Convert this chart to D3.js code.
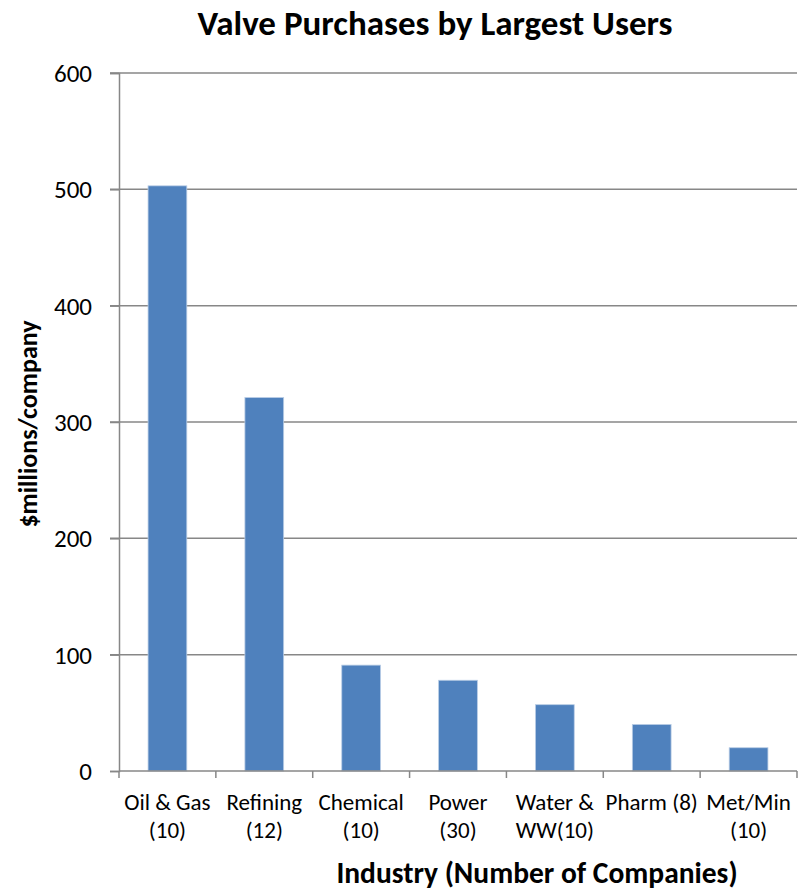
<!DOCTYPE html>
<html>
<head>
<meta charset="utf-8">
<script src="https://cdn.jsdelivr.net/npm/d3@7"></script>
<style>
  body { margin: 0; background: #fff; }
  text { font-family: Carlito, "Open Sans", "Noto Sans", sans-serif; fill: #000; }
</style>
</head>
<body>
<svg id="chart" width="808" height="895"></svg>
<script>
const categories = [
  ["Oil & Gas", "(10)"],
  ["Refining", "(12)"],
  ["Chemical", "(10)"],
  ["Power", "(30)"],
  ["Water &", "WW(10)"],
  ["Pharm (8)", ""],
  ["Met/Min", "(10)"]
];
const values = [503, 321, 91, 78, 57, 40, 20];
const yTicks = [0, 100, 200, 300, 400, 500, 600];
const titleText = "Valve Purchases by Largest Users";
const yTitle = "$millions/company";
const xTitle = "Industry (Number of Companies)";

(function() {
const svg = d3.select("#chart");
const mLeft = 119, mRight = 797, mTop = 73, mBottom = 771;

const x = d3.scaleBand().domain(d3.range(categories.length)).range([mLeft, mRight]).paddingInner(0.6).paddingOuter(0.3);
const xb = d3.scaleBand().domain(d3.range(categories.length)).range([mLeft, mRight]);
const y = d3.scaleLinear().domain([0, 600]).range([mBottom, mTop]);

// gridlines
svg.append("g").selectAll("line").data(yTicks.filter(d => d > 0)).join("line")
  .attr("x1", mLeft - 9).attr("x2", mRight)
  .attr("y1", d => y(d)).attr("y2", d => y(d))
  .attr("stroke", "#878787").attr("stroke-width", 1.5);

// y axis
const yAxis = svg.append("g").attr("transform", `translate(${mLeft},0)`)
  .call(d3.axisLeft(y).tickValues(yTicks).tickSize(9).tickPadding(18));
yAxis.select(".domain").attr("stroke", "#878787").attr("stroke-width", 1.5);
yAxis.selectAll(".tick line").attr("stroke", "#878787").attr("stroke-width", 1.5);
yAxis.selectAll(".tick text").style("font-size", "25px").style("font-family", "Carlito, 'Open Sans', sans-serif").attr("fill", "#000").attr("dy", "0.34em");

// bars
svg.append("g").selectAll("rect").data(values).join("rect")
  .attr("x", (d, i) => x(i))
  .attr("width", x.bandwidth())
  .attr("y", d => y(d))
  .attr("height", d => mBottom - y(d))
  .attr("fill", "#4F81BD")
  .attr("stroke", "#B9CDE5").attr("stroke-width", 0.8);

// x axis baseline with boundary ticks
svg.append("line").attr("x1", mLeft).attr("x2", mRight).attr("y1", mBottom).attr("y2", mBottom)
  .attr("stroke", "#878787").attr("stroke-width", 1.5);
const bounds = d3.range(categories.length + 1).map(i => i < categories.length ? xb(i) : mRight);
svg.append("g").selectAll("line").data(bounds).join("line")
  .attr("x1", d => d).attr("x2", d => d).attr("y1", mBottom).attr("y2", mBottom + 7)
  .attr("stroke", "#878787").attr("stroke-width", 1.5);

// x labels
const xl = svg.append("g").selectAll("text").data(categories).join("text")
  .attr("text-anchor", "middle")
  .style("font-size", "23px");
xl.each(function(d, i) {
  const t = d3.select(this);
  const cx = xb(i) + xb.bandwidth() / 2;
  t.append("tspan").attr("x", cx).attr("y", 810).text(d[0]);
  if (d[1]) t.append("tspan").attr("x", cx).attr("y", 838).text(d[1]);
});

// title
svg.append("text").attr("x", 435).attr("y", 35).attr("text-anchor", "middle")
  .style("font-size", "35px").style("font-weight", "bold").text(titleText);

// y title
svg.append("text").attr("transform", `translate(37,${(mTop + mBottom) / 2 + 2}) rotate(-90)`)
  .attr("text-anchor", "middle").style("font-size", "26px").style("font-weight", "bold").text(yTitle);

// x title
svg.append("text").attr("x", 537).attr("y", 883).attr("text-anchor", "middle")
  .style("font-size", "29.5px").style("font-weight", "bold").text(xTitle);
})();
</script>
</body>
</html>
